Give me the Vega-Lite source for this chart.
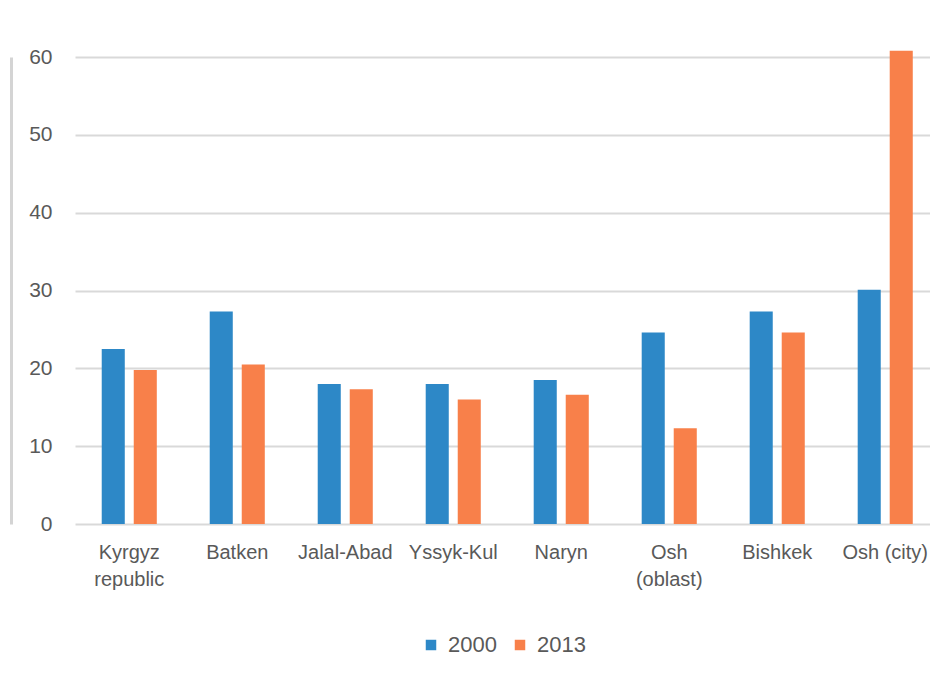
{
  "$schema": "https://vega.github.io/schema/vega-lite/v6.json",
  "autosize": {"type": "none"},
  "padding": {"left": 75, "top": 57, "right": 0, "bottom": 153},
  "width": 855,
  "height": 467,
  "background": "white",
  "data": {
    "values": [
      {"region": "Kyrgyz republic", "year": "2000", "value": 22.5},
      {"region": "Kyrgyz republic", "year": "2013", "value": 19.8},
      {"region": "Batken", "year": "2000", "value": 27.3},
      {"region": "Batken", "year": "2013", "value": 20.5},
      {"region": "Jalal-Abad", "year": "2000", "value": 18.0},
      {"region": "Jalal-Abad", "year": "2013", "value": 17.3},
      {"region": "Yssyk-Kul", "year": "2000", "value": 18.0},
      {"region": "Yssyk-Kul", "year": "2013", "value": 16.0},
      {"region": "Naryn", "year": "2000", "value": 18.5},
      {"region": "Naryn", "year": "2013", "value": 16.6},
      {"region": "Osh (oblast)", "year": "2000", "value": 24.6},
      {"region": "Osh (oblast)", "year": "2013", "value": 12.3},
      {"region": "Bishkek", "year": "2000", "value": 27.3},
      {"region": "Bishkek", "year": "2013", "value": 24.6},
      {"region": "Osh (city)", "year": "2000", "value": 30.1},
      {"region": "Osh (city)", "year": "2013", "value": 60.8}
    ]
  },
  "mark": {"type": "bar", "clip": false},
  "encoding": {
    "x": {
      "field": "region",
      "type": "nominal",
      "sort": null,
      "scale": {"paddingInner": 0.49, "paddingOuter": 0.2035, "align": 0.608},
      "axis": {
        "title": null,
        "labelAngle": 0,
        "domain": false,
        "ticks": false,
        "labelPadding": 18,
        "labelFontSize": 20,
        "labelLineHeight": 27,
        "labelExpr": "datum.label == 'Kyrgyz republic' ? ['Kyrgyz', 'republic'] : datum.label == 'Osh (oblast)' ? ['Osh', '(oblast)'] : datum.label"
      }
    },
    "xOffset": {
      "field": "year",
      "type": "nominal",
      "scale": {"paddingInner": 0.28, "paddingOuter": 0}
    },
    "y": {
      "field": "value",
      "type": "quantitative",
      "scale": {"domain": [0, 60], "nice": false},
      "axis": {
        "title": null,
        "values": [0, 10, 20, 30, 40, 50, 60],
        "ticks": false,
        "labelPadding": -41,
        "labelFontSize": 21,
        "domain": true,
        "domainColor": "#d4d4d4",
        "domainWidth": 3,
        "offset": 64
      }
    },
    "color": {
      "field": "year",
      "type": "nominal",
      "scale": {"domain": ["2000", "2013"], "range": ["#2D88C7", "#F8804A"]},
      "legend": {
        "title": null,
        "orient": "bottom",
        "direction": "horizontal",
        "symbolType": "square",
        "symbolSize": 110,
        "symbolStrokeWidth": 0,
        "labelFontSize": 22,
        "labelOffset": 6,
        "columnPadding": 12,
        "offset": 45
      }
    }
  },
  "config": {
    "font": "Liberation Sans",
    "view": {"stroke": null},
    "axis": {
      "labelColor": "#595959",
      "labelFont": "Liberation Sans",
      "gridColor": "#d9d9d9",
      "gridWidth": 2
    },
    "legend": {
      "labelColor": "#595959",
      "labelFont": "Liberation Sans",
      "layout": {"bottom": {"anchor": "middle"}}
    }
  }
}
